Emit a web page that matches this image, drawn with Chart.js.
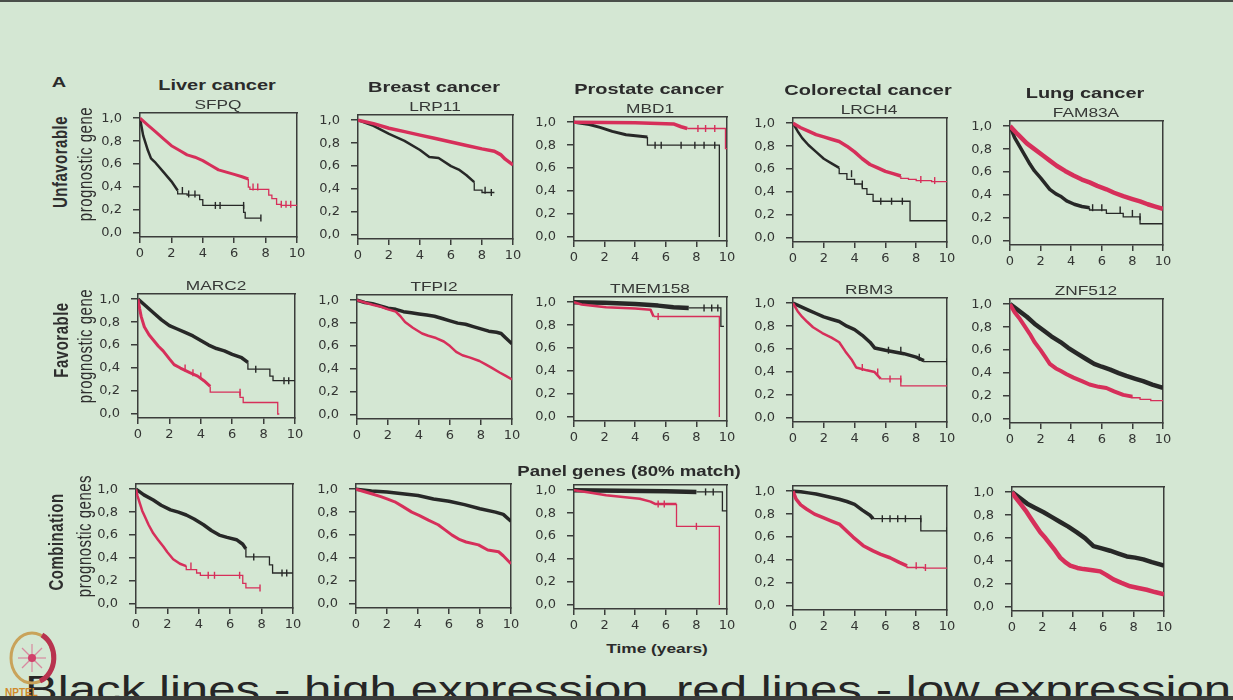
<!DOCTYPE html>
<html>
<head>
  <meta charset="UTF-8">
  <title>Survival panels</title>
  <script src="https://cdn.jsdelivr.net/npm/chart.js"></script>
  <style>
    body { margin: 0; width: 1233px; height: 700px; overflow: hidden; position: relative;
           background: #d4e7d3; font-family: "Liberation Sans", Arial, sans-serif; color: #2e2e2e; }
    canvas { position: absolute; }
    .t { position: absolute; white-space: nowrap; line-height: 1; transform: translate(-50%, -50%) scaleX(1.33); }
    .title { font-weight: bold; font-size: 15px; color: #2b2b2b; }
    .gene { font-size: 13px; color: #363836; }
    .rot { transform: translate(-50%, -50%) scaleX(1.33) rotate(-90deg); font-size: 15px; letter-spacing: 0.5px; }
    .topbar { position: absolute; left: 0; top: 0; width: 1233px; height: 2px; background: #4a4f4a; }
    .caption { position: absolute; left: 25px; top: 671px; font-size: 37px; line-height: 1; color: #262626;
               white-space: nowrap; transform: scaleX(1.33); transform-origin: 0 0; }
    .botbar { position: absolute; left: 0; top: 696px; width: 1233px; height: 4px; background: #3b3d3b; z-index: 2; }
    .logo { position: absolute; left: 4px; top: 626px; z-index: 3; }
  </style>
</head>
<body>
  <div class="topbar"></div>

  <script>
    // ---- axes ----
    const cancers = ['Liver cancer', 'Breast cancer', 'Prostate cancer', 'Colorectal cancer', 'Lung cancer'];
    const genes = ['SFPQ', 'LRP11', 'MBD1', 'LRCH4', 'FAM83A', 'MARC2', 'TFPI2', 'TMEM158', 'RBM3', 'ZNF512'];
    const xTicks = [0, 2, 4, 6, 8, 10];
    const yTicks = [0, 0.2, 0.4, 0.6, 0.8, 1.0];
    const yTickLabels = ['0,0', '0,2', '0,4', '0,6', '0,8', '1,0'];

    // ---- survival curves [years, fraction], black = high, red = low ----
    // unfavorable genes
    const sfpqHigh = [[0,1],[0.2,0.85],[0.5,0.72],[0.7,0.65],[1,0.61],[1.5,0.53],[2,0.45],[2.4,0.37],[3,0.34],[3.8,0.33],[4,0.29],[4.4,0.24],[6.6,0.24],[6.7,0.18],[7.1,0.13],[7.7,0.13]];
    const sfpqLow = [[0,1],[0.5,0.94],[1,0.88],[1.5,0.82],[2,0.76],[2.5,0.72],[3,0.68],[3.5,0.66],[4,0.63],[4.5,0.59],[5,0.55],[5.5,0.53],[6,0.51],[6.5,0.49],[6.9,0.47],[7,0.40],[8.2,0.38],[8.4,0.33],[8.7,0.30],[9,0.25],[10,0.24]];
    const sfpqHighCens = [2.7, 3.1, 3.5, 4.8, 5.1, 6.6, 7.7];
    const sfpqLowCens = [7.2, 7.5, 9.0, 9.3, 9.6];

    const lrp11High = [[0,1],[1,0.95],[2,0.88],[3,0.82],[4,0.74],[4.6,0.68],[5.2,0.67],[6,0.6],[6.5,0.57],[7,0.52],[7.5,0.46],[8,0.39],[8.3,0.37],[8.8,0.37]];
    const lrp11Low = [[0,1],[1,0.97],[2,0.93],[3,0.9],[4,0.87],[5,0.84],[6,0.81],[7,0.78],[8,0.75],[8.8,0.73],[9.2,0.70],[9.5,0.66],[10,0.61]];
    const lrp11HighCens = [8.2, 8.6];
    const lrp11LowCens = [];

    const mbd1High = [[0,1],[1,0.98],[1.7,0.955],[2.5,0.92],[3.4,0.89],[4.8,0.87],[5.1,0.80],[9.5,0.80],[9.5,0.0]];
    const mbd1Low = [[0,1],[4,0.995],[6.5,0.985],[7.0,0.96],[7.4,0.945],[9.9,0.945],[9.9,0.77],[10,0.77]];
    const mbd1HighCens = [5.3, 5.7, 7.0, 7.9, 8.5, 9.2];
    const mbd1LowCens = [8.1, 8.6, 9.2];

    const lrch4High = [[0,1],[0.3,0.93],[0.6,0.87],[1,0.81],[1.5,0.75],[2,0.69],[2.5,0.65],[3,0.61],[3.5,0.56],[4,0.51],[4.5,0.47],[4.8,0.43],[5.2,0.38],[5.5,0.32],[7.6,0.32],[7.7,0.15],[10,0.15]];
    const lrch4Low = [[0,1],[0.5,0.96],[1,0.93],[1.5,0.9],[2,0.88],[2.5,0.86],[3,0.84],[3.5,0.8],[4,0.75],[4.5,0.69],[5,0.64],[5.5,0.61],[6,0.58],[6.5,0.56],[7,0.54],[7.5,0.52],[8,0.51],[9,0.50],[10,0.49]];
    const lrch4HighCens = [3.8, 4.5, 5.7, 6.4, 7.1];
    const lrch4LowCens = [8.3, 9.2];

    const fam83aHigh = [[0,1],[0.3,0.9],[0.65,0.82],[1,0.74],[1.3,0.67],[1.6,0.61],[2,0.55],[2.3,0.5],[2.6,0.45],[3,0.41],[3.3,0.39],[3.7,0.35],[4.2,0.32],[4.7,0.3],[5.2,0.29],[6.3,0.27],[7.4,0.24],[8.5,0.21],[8.85,0.15],[10,0.15]];
    const fam83aLow = [[0,1],[0.5,0.93],[1.1,0.85],[1.6,0.8],[2.2,0.74],[2.6,0.7],[3.05,0.655],[3.6,0.61],[4.15,0.57],[4.7,0.535],[5.2,0.51],[5.7,0.48],[6.3,0.45],[6.8,0.42],[7.4,0.39],[8,0.365],[8.5,0.345],[9,0.32],[9.5,0.3],[10,0.28]];
    const fam83aHighCens = [5.4, 6.0, 7.2, 8.0, 8.5];
    const fam83aLowCens = [];

    // favorable genes
    const marc2High = [[0,1],[0.5,0.94],[1,0.88],[1.5,0.82],[2,0.77],[2.5,0.74],[3,0.71],[3.5,0.68],[4,0.64],[4.5,0.6],[5,0.57],[5.5,0.55],[6,0.52],[6.6,0.49],[7.0,0.45],[7.1,0.39],[8.4,0.39],[8.6,0.33],[8.9,0.29],[10,0.29]];
    const marc2Low = [[0,1],[0.1,0.92],[0.2,0.85],[0.4,0.76],[0.7,0.69],[1,0.64],[1.3,0.59],[1.6,0.55],[2,0.48],[2.3,0.43],[2.7,0.40],[3.3,0.36],[3.8,0.33],[4.2,0.29],[4.6,0.24],[4.9,0.19],[6.5,0.19],[6.7,0.145],[6.9,0.10],[8.9,0.10],[9.0,0.0]];
    const marc2HighCens = [7.5, 9.3, 9.6];
    const marc2LowCens = [3.0, 3.5, 4.0, 6.5];

    const tfpi2High = [[0,1],[0.5,0.98],[1,0.97],[1.5,0.95],[2,0.93],[2.5,0.92],[3,0.9],[3.5,0.89],[4,0.88],[4.5,0.87],[5,0.86],[5.5,0.84],[6,0.82],[6.5,0.8],[7,0.79],[7.5,0.77],[8,0.75],[8.5,0.73],[9,0.72],[9.3,0.71],[9.6,0.67],[10,0.62]];
    const tfpi2Low = [[0,1],[0.5,0.98],[1,0.96],[1.6,0.94],[2,0.92],[2.5,0.9],[2.8,0.86],[3.1,0.81],[3.6,0.76],[4.2,0.71],[4.6,0.69],[5.1,0.67],[5.6,0.64],[6,0.6],[6.4,0.55],[6.8,0.52],[7.3,0.5],[7.9,0.47],[8.3,0.44],[8.7,0.41],[9.2,0.37],[9.6,0.34],[10,0.31]];
    const tfpi2HighCens = [];
    const tfpi2LowCens = [];

    const tmem158High = [[0,1],[2,0.995],[4,0.985],[5.5,0.97],[6.5,0.955],[7.5,0.95],[9.6,0.95],[9.7,0.79],[9.8,0.79]];
    const tmem158Low = [[0,1],[0.5,0.98],[1.5,0.965],[2.1,0.955],[4,0.945],[5,0.935],[5.2,0.875],[9.5,0.875],[9.5,0.0]];
    const tmem158HighCens = [8.5, 9.0, 9.4];
    const tmem158LowCens = [5.5];

    const rbm3High = [[0,1],[0.5,0.97],[1,0.94],[1.5,0.91],[2,0.88],[2.5,0.86],[3,0.84],[3.5,0.8],[4,0.77],[4.5,0.72],[5,0.66],[5.3,0.61],[6,0.59],[7.2,0.56],[8,0.53],[8.5,0.5],[10,0.49]];
    const rbm3Low = [[0,1],[0.3,0.93],[0.6,0.88],[0.9,0.84],[1.3,0.79],[1.9,0.74],[2.5,0.7],[3,0.66],[3.4,0.58],[3.8,0.51],[4.1,0.44],[4.8,0.415],[5.3,0.40],[5.7,0.34],[7.0,0.34],[7.1,0.28],[10,0.28]];
    const rbm3HighCens = [6.2, 7.0, 8.2, 10];
    const rbm3LowCens = [4.5, 5.5, 6.3, 7.0];

    const znf512High = [[0,1],[0.5,0.95],[1.1,0.89],[1.6,0.83],[2.2,0.77],[2.7,0.72],[3.3,0.67],[3.8,0.62],[4.4,0.57],[5,0.52],[5.5,0.48],[6,0.455],[6.55,0.43],[7.1,0.40],[7.6,0.375],[8.2,0.35],[8.7,0.33],[9.3,0.30],[10,0.27]];
    const znf512Low = [[0,1],[0.3,0.93],[0.65,0.87],[1,0.8],[1.3,0.74],[1.6,0.67],[2,0.6],[2.3,0.54],[2.6,0.48],[3,0.44],[3.3,0.42],[3.7,0.39],[4.15,0.36],[4.7,0.33],[5.2,0.30],[5.8,0.28],[6.3,0.27],[6.8,0.24],[7.4,0.21],[8,0.195],[8.5,0.185],[9.2,0.17],[10,0.16]];
    const znf512HighCens = [];
    const znf512LowCens = [];

    // combination (panel genes)
    const liverComboHigh = [[0,1],[0.5,0.95],[1.1,0.905],[1.6,0.86],[2.2,0.82],[2.7,0.8],[3.2,0.775],[3.7,0.74],[4.3,0.69],[4.8,0.64],[5.3,0.6],[5.8,0.58],[6.4,0.56],[6.8,0.52],[7.0,0.48],[7.1,0.41],[8.5,0.41],[8.7,0.34],[9.0,0.27],[10,0.27]];
    const liverComboLow = [[0,1],[0.1,0.94],[0.25,0.875],[0.4,0.81],[0.57,0.76],[0.8,0.69],[1.1,0.615],[1.4,0.56],[1.74,0.5],[2,0.45],[2.37,0.39],[2.8,0.35],[3.2,0.33],[3.86,0.30],[4.1,0.27],[4.3,0.25],[6.8,0.25],[7.0,0.18],[7.25,0.14],[7.9,0.14]];
    const liverComboHighCens = [7.5, 9.3, 9.6];
    const liverComboLowCens = [3.5, 4.6, 5.0, 6.6, 7.9];

    const breastComboHigh = [[0,1],[1,0.985],[2,0.975],[3,0.96],[4,0.945],[5,0.915],[6,0.895],[7,0.865],[8,0.83],[9,0.8],[9.5,0.78],[10,0.72]];
    const breastComboLow = [[0,1],[0.5,0.98],[1,0.96],[1.6,0.935],[2,0.915],[2.5,0.89],[3,0.85],[3.6,0.8],[4.1,0.77],[4.67,0.73],[5.3,0.69],[5.7,0.65],[6.2,0.6],[6.7,0.56],[7.1,0.54],[7.9,0.515],[8.5,0.47],[9.2,0.455],[9.5,0.42],[10,0.35]];
    const breastComboHighCens = [];
    const breastComboLowCens = [];

    const prostateComboHigh = [[0,1],[3,0.995],[6,0.99],[8,0.985],[9.7,0.985],[9.75,0.82],[10,0.82]];
    const prostateComboLow = [[0,1],[1,0.98],[2.1,0.955],[3.2,0.94],[4.3,0.925],[5,0.9],[5.3,0.88],[6.7,0.88],[6.75,0.685],[9.5,0.685],[9.5,0.0]];
    const prostateComboHighCens = [8.6, 9.1];
    const prostateComboLowCens = [5.5, 5.9, 8.0];

    const colorectalComboHigh = [[0,1],[0.5,0.995],[1,0.985],[1.5,0.975],[2,0.96],[2.5,0.945],[3,0.93],[3.5,0.91],[4,0.885],[4.5,0.835],[5,0.79],[5.2,0.76],[8.3,0.76],[8.4,0.655],[10,0.655]];
    const colorectalComboLow = [[0,1],[0.2,0.93],[0.5,0.88],[0.87,0.845],[1.4,0.8],[1.96,0.77],[2.5,0.74],[3.04,0.71],[3.5,0.65],[3.9,0.6],[4.56,0.525],[5.2,0.48],[5.7,0.45],[6.3,0.42],[6.9,0.38],[7.4,0.35],[8.5,0.335],[10,0.33]];
    const colorectalComboHighCens = [5.8, 6.3, 6.8, 7.3, 8.3, 10];
    const colorectalComboLowCens = [8.0, 8.6];

    const lungComboHigh = [[0,1],[0.5,0.95],[1,0.9],[1.5,0.865],[2.08,0.825],[2.6,0.785],[3.17,0.74],[3.7,0.7],[4.27,0.65],[4.8,0.6],[5.36,0.53],[5.9,0.51],[6.45,0.49],[7,0.465],[7.55,0.44],[8.1,0.43],[8.64,0.415],[9.2,0.39],[10,0.36]];
    const lungComboLow = [[0,1],[0.25,0.95],[0.55,0.9],[0.9,0.84],[1.2,0.78],[1.5,0.72],[1.86,0.65],[2.2,0.6],[2.5,0.55],[2.85,0.49],[3.17,0.43],[3.5,0.39],[3.83,0.36],[4.3,0.34],[4.7,0.33],[5.3,0.32],[5.8,0.31],[6.2,0.28],[6.67,0.24],[7.2,0.21],[7.77,0.18],[8.3,0.165],[8.86,0.15],[9.4,0.13],[10,0.11]];
    const lungComboHighCens = [];
    const lungComboLowCens = [];

    const panels = [
      [sfpqHigh, sfpqLow, sfpqHighCens, sfpqLowCens],
      [lrp11High, lrp11Low, lrp11HighCens, lrp11LowCens],
      [mbd1High, mbd1Low, mbd1HighCens, mbd1LowCens],
      [lrch4High, lrch4Low, lrch4HighCens, lrch4LowCens],
      [fam83aHigh, fam83aLow, fam83aHighCens, fam83aLowCens],
      [marc2High, marc2Low, marc2HighCens, marc2LowCens],
      [tfpi2High, tfpi2Low, tfpi2HighCens, tfpi2LowCens],
      [tmem158High, tmem158Low, tmem158HighCens, tmem158LowCens],
      [rbm3High, rbm3Low, rbm3HighCens, rbm3LowCens],
      [znf512High, znf512Low, znf512HighCens, znf512LowCens],
      [liverComboHigh, liverComboLow, liverComboHighCens, liverComboLowCens],
      [breastComboHigh, breastComboLow, breastComboHighCens, breastComboLowCens],
      [prostateComboHigh, prostateComboLow, prostateComboHighCens, prostateComboLowCens],
      [colorectalComboHigh, colorectalComboLow, colorectalComboHighCens, colorectalComboLowCens],
      [lungComboHigh, lungComboLow, lungComboHighCens, lungComboLowCens]
    ];

    // ---- layout (the photo is slightly tilted, so each row/col has its own offsets) ----
    const boxLeft = [[140, 358, 574, 793, 1010], [138, 357, 574, 793, 1010], [136, 356, 574, 793, 1012]];
    const boxWidth = [[157, 155, 153, 154, 153], [157, 155, 153, 154, 153], [157, 155, 153, 154, 152]];
    const oneY = [[118, 120, 122, 123, 126], [299, 300, 302, 303, 304], [489, 489, 490, 491, 492]];
    const SPAN = 115;              // px from 0.0 to 1.0
    const Y_MIN = -0.035, Y_MAX = 1.045;
    const PLOT_H = Math.round((Y_MAX - Y_MIN) * SPAN);
    const AXIS_W = 44, AXIS_H = 22, PAD_T = 8, PAD_R = 12;

    // dense part (many tiny steps + censor ticks) drawn as a thick line, sparse tail as steps
    // [cut year, width] for black, red
    const dense = [
      [[2.4, 2.5], [6.9, 3]], [[7.8, 2.5], [10, 3.5]], [[5, 3], [7.6, 3.5]], [[3.2, 2.5], [7.2, 3.5]], [[5.5, 3.5], [10, 4.5]],
      [[7, 3.5], [4.6, 3]], [[10, 3.5], [10, 2.5]], [[9.4, 4.5], [5.3, 2.5]], [[8.8, 3.5], [5.8, 2.5]], [[10, 4.5], [8.2, 4]],
      [[7, 3.5], [3.6, 2.5]], [[10, 3.5], [10, 3]], [[9.6, 4.5], [6.7, 2.5]], [[5.3, 3.5], [7.6, 3.5]], [[10, 4.5], [10, 4.5]]
    ];
    const BLACK = '#272827', RED = '#d62f5a', AXIS = '#3b3d3b', TICK = '#333533';

    function stepAt(curve, t) {
      let s = curve[0][1];
      for (const [x, y] of curve) { if (x <= t) s = y; else break; }
      return s;
    }

    function curveSets(curve, cens, color, cut, wide) {
      const head = curve.filter(p => p[0] <= cut);
      const tail = curve.filter(p => p[0] >= head[head.length - 1][0]);
      const sets = [{
        type: 'line', data: head.map(([x, y]) => ({ x, y })),
        borderColor: color, borderWidth: wide, pointRadius: 0, fill: false, borderJoinStyle: 'round'
      }];
      if (tail.length > 1) {
        sets.push({
          type: 'line', data: tail.map(([x, y]) => ({ x, y })), stepped: 'after',
          borderColor: color, borderWidth: 1.3, pointRadius: 0, fill: false
        });
      }
      sets.push({
        type: 'scatter', data: cens.map(t => ({ x: t, y: stepAt(curve, t) })),
        pointStyle: 'line', rotation: 90, radius: 3.5, borderColor: color, borderWidth: 1.4
      });
      return sets;
    }

    const tickFont = { family: 'DejaVu Sans', size: 13 };

    function makeChart(r, c) {
      const idx = r * 5 + c;
      const [high, low, highCens, lowCens] = panels[idx];
      const [bl, rd] = dense[idx];
      const cv = document.createElement('canvas');
      const w = AXIS_W + boxWidth[r][c] + PAD_R, h = PAD_T + PLOT_H + AXIS_H;
      cv.width = w; cv.height = h;
      cv.style.left = (boxLeft[r][c] - AXIS_W) + 'px';
      cv.style.top = (oneY[r][c] - Math.round((Y_MAX - 1) * SPAN) - PAD_T) + 'px';
      document.body.appendChild(cv);

      const frame = { color: AXIS, width: 1.5 };
      new Chart(cv, {
        type: 'line',
        data: { datasets: [...curveSets(low, lowCens, RED, rd[0], rd[1]), ...curveSets(high, highCens, BLACK, bl[0], bl[1])] },
        options: {
          responsive: false, animation: false, events: [],
          layout: { padding: { top: PAD_T, right: PAD_R, bottom: 0, left: 0 } },
          plugins: { legend: { display: false }, tooltip: { enabled: false } },
          scales: {
            x: {
              type: 'linear', min: 0, max: 10,
              afterBuildTicks: s => { s.ticks = xTicks.map(v => ({ value: v })); },
              afterFit: s => { s.height = AXIS_H; s.paddingLeft = 0; s.paddingRight = 0; },
              ticks: { font: tickFont, color: TICK, padding: 3, maxRotation: 0, autoSkip: false },
              grid: { drawOnChartArea: false, tickLength: 6, color: AXIS, lineWidth: 1.5 },
              border: frame
            },
            y: {
              type: 'linear', min: Y_MIN, max: Y_MAX,
              afterBuildTicks: s => { s.ticks = yTicks.map(v => ({ value: v })); },
              afterFit: s => { s.width = AXIS_W; s.paddingTop = 0; s.paddingBottom = 0; },
              ticks: { font: tickFont, color: TICK, padding: 11, callback: (v, i) => yTickLabels[i] },
              grid: { drawOnChartArea: false, tickLength: 7, color: AXIS, lineWidth: 1.5 },
              border: frame
            },
            x2: {
              type: 'linear', position: 'top', min: 0, max: 10,
              afterFit: s => { s.height = 0; s.paddingLeft = 0; s.paddingRight = 0; },
              ticks: { display: false }, grid: { drawOnChartArea: false, drawTicks: false }, border: frame
            },
            y2: {
              type: 'linear', position: 'right', min: Y_MIN, max: Y_MAX,
              afterFit: s => { s.width = 0; s.paddingTop = 0; s.paddingBottom = 0; },
              ticks: { display: false }, grid: { drawOnChartArea: false, drawTicks: false }, border: frame
            }
          }
        }
      });
    }

    function addText(txt, x, y, cls, extra) {
      const d = document.createElement('div');
      d.className = 't ' + cls;
      d.textContent = txt;
      d.style.left = x + 'px';
      d.style.top = y + 'px';
      if (extra) Object.assign(d.style, extra);
      document.body.appendChild(d);
    }

    for (let r = 0; r < 3; r++) {
      for (let c = 0; c < 5; c++) makeChart(r, c);
    }

    // column and gene titles
    for (let c = 0; c < 5; c++) {
      const cx = boxLeft[0][c] + boxWidth[0][c] / 2 - 2;
      addText(cancers[c], cx, oneY[0][c] - 34, 'title');
      addText(genes[c], cx + 1, oneY[0][c] - 14, 'gene');
      const cx2 = boxLeft[1][c] + boxWidth[1][c] / 2 - 1;
      addText(genes[5 + c], cx2, oneY[1][c] - 14, 'gene');
    }
    addText('A', 59, 81, 'title');
    addText('Panel genes (80% match)', 629, 471, 'title', { fontSize: '14px' });
    addText('Time (years)', 657, 648, 'title', { fontSize: '13px' });

    // row labels
    addText('Unfavorable', 60, 162, 'rot', { fontWeight: 'bold' });
    addText('prognostic gene', 85, 164, 'rot');
    addText('Favorable', 61, 340, 'rot', { fontWeight: 'bold' });
    addText('prognostic gene', 85, 346, 'rot');
    addText('Combination', 56, 542, 'rot', { fontWeight: 'bold' });
    addText('prognostic genes', 84, 536, 'rot');
  </script>

  <svg class="logo" width="60" height="72" viewBox="0 0 60 72">
    <ellipse cx="28" cy="32" rx="21" ry="25" fill="none" stroke="#c9a35a" stroke-width="3"/>
    <path d="M38 9 A21 25 0 0 1 36 55" fill="none" stroke="#b8334f" stroke-width="5"/>
    <g stroke="#d88aa0" stroke-width="1.2">
      <line x1="28" y1="18" x2="28" y2="46"/><line x1="14" y1="32" x2="42" y2="32"/>
      <line x1="18" y1="22" x2="38" y2="42"/><line x1="38" y1="22" x2="18" y2="42"/>
    </g>
    <circle cx="28" cy="32" r="4" fill="#d0406a"/>
    <text x="1" y="70" font-family="Liberation Sans" font-weight="bold" font-size="10" fill="#d08a2a">NPTEL</text>
  </svg>
  <div class="caption">Black lines - high expression, red lines - low expression</div>
  <div class="botbar"></div>
</body>
</html>
